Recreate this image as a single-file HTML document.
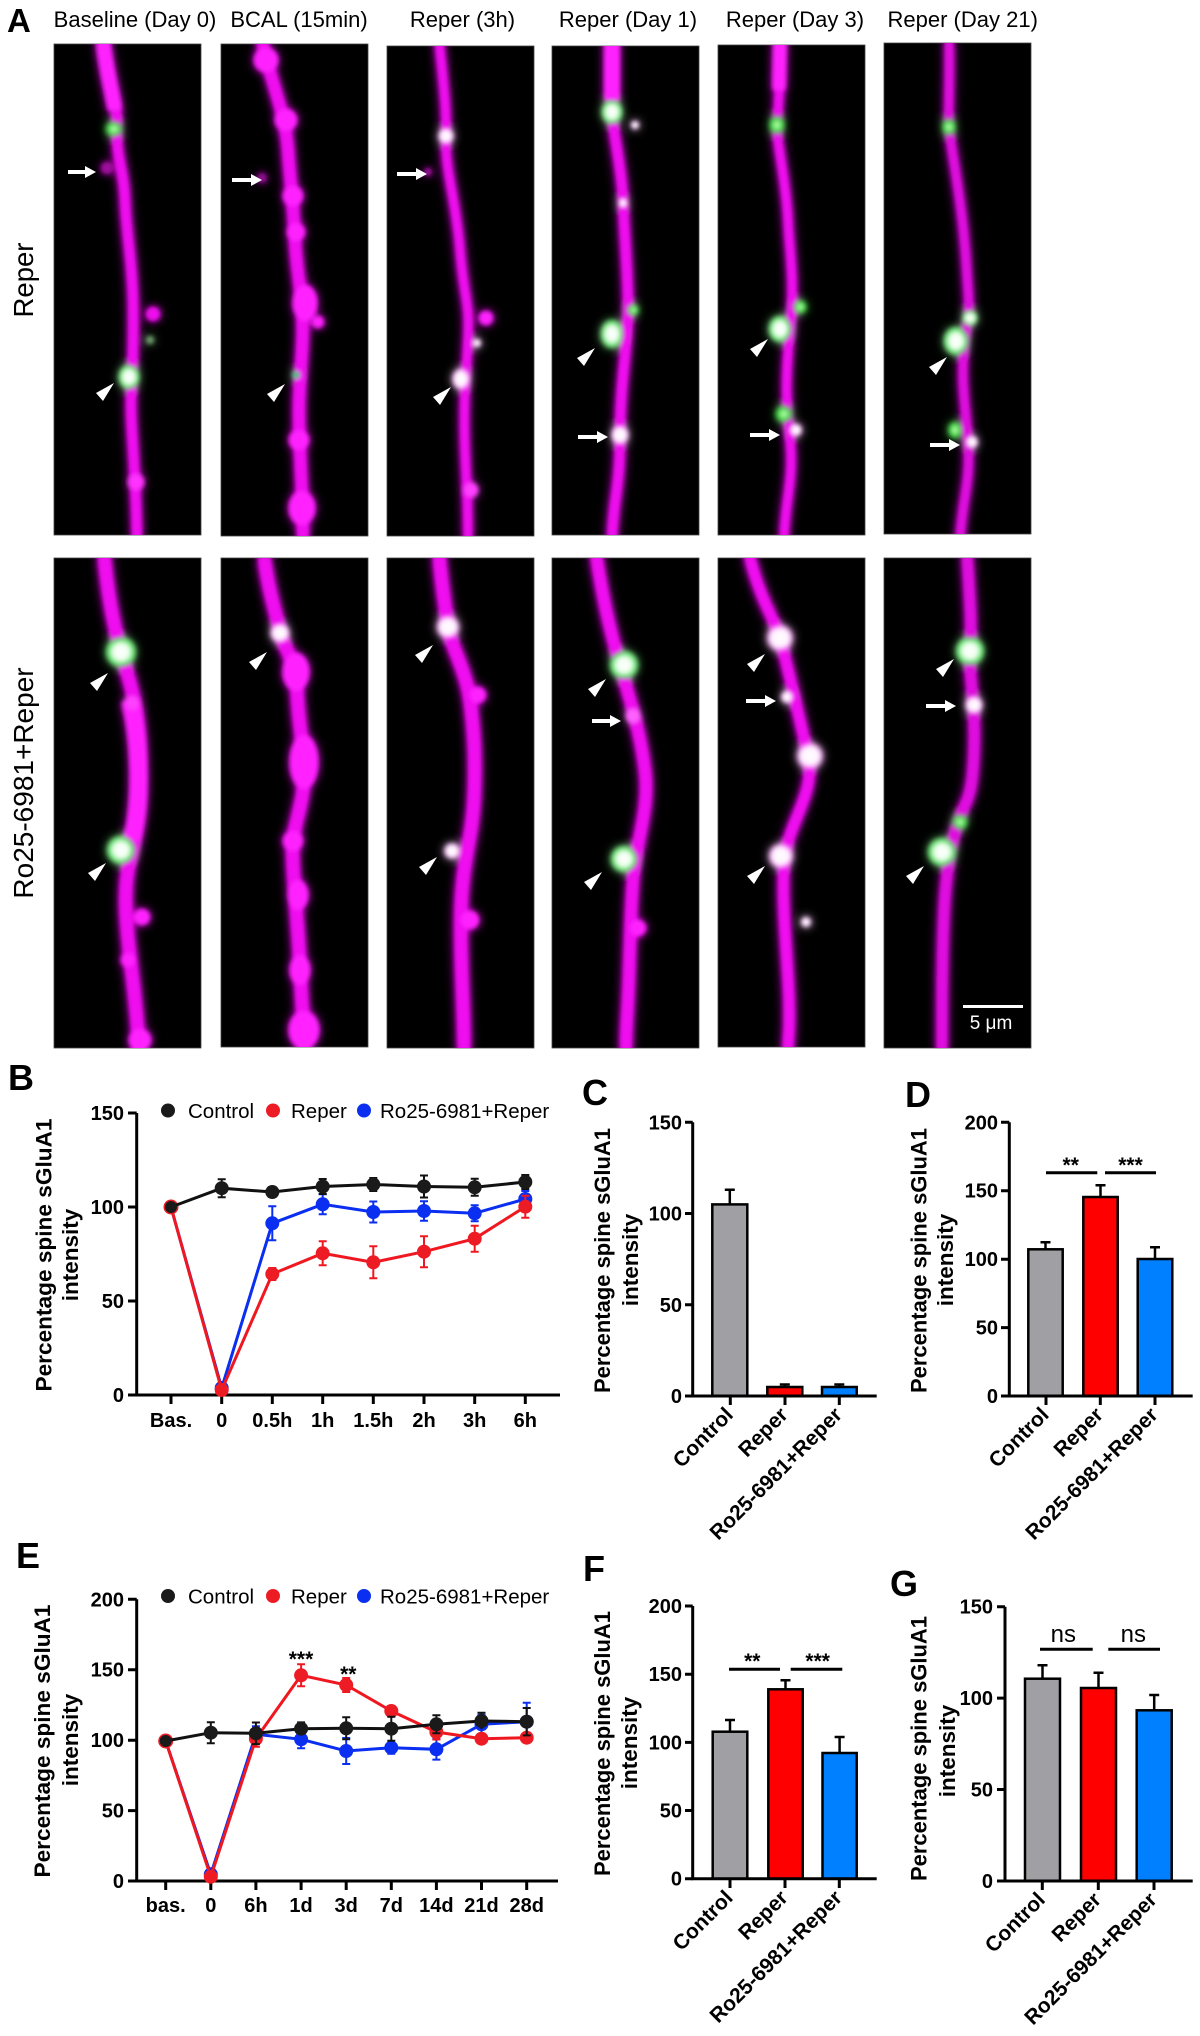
<!DOCTYPE html>
<html>
<head>
<meta charset="utf-8">
<style>
html,body{margin:0;padding:0;background:#fff;}
body{width:1200px;height:2036px;overflow:hidden;}
svg{display:block;font-family:"Liberation Sans",Arial,sans-serif;}
.tk{font-weight:bold;font-size:20px;}
.yl{font-weight:bold;font-size:22.5px;}
.xl{font-weight:bold;font-size:21px;}
.lg{font-size:20.5px;}
.pl{font-weight:bold;font-size:36px;}
.hd{font-size:22px;}
</style>
</head>
<body>
<svg width="1200" height="2036" viewBox="0 0 1200 2036" xmlns="http://www.w3.org/2000/svg">
<defs>
<filter id="bl" x="-40%" y="-10%" width="180%" height="120%">
<feGaussianBlur in="SourceGraphic" stdDeviation="5" result="a"/>
<feGaussianBlur in="SourceGraphic" stdDeviation="2" result="b"/>
<feMerge><feMergeNode in="a"/><feMergeNode in="b"/></feMerge>
</filter>
<radialGradient id="gw"><stop offset="0" stop-color="#ffffff"/><stop offset="0.5" stop-color="#f0fff0"/><stop offset="0.8" stop-color="#40e050"/><stop offset="1" stop-color="#20b030" stop-opacity="0"/></radialGradient>
<radialGradient id="gg"><stop offset="0" stop-color="#d8ffd0"/><stop offset="0.55" stop-color="#40e040"/><stop offset="1" stop-color="#10a020" stop-opacity="0"/></radialGradient>
<radialGradient id="ww"><stop offset="0" stop-color="#ffffff"/><stop offset="0.6" stop-color="#fff0ff"/><stop offset="1" stop-color="#ff40ff" stop-opacity="0"/></radialGradient>
<clipPath id="c1"><rect x="54" y="44" width="147" height="491"/></clipPath>
<clipPath id="c2"><rect x="221" y="44" width="147" height="492"/></clipPath>
<clipPath id="c3"><rect x="387" y="46" width="147" height="490"/></clipPath>
<clipPath id="c4"><rect x="552" y="46" width="147" height="489"/></clipPath>
<clipPath id="c5"><rect x="718" y="45" width="147" height="490"/></clipPath>
<clipPath id="c6"><rect x="884" y="43" width="147" height="491"/></clipPath>
<clipPath id="d1"><rect x="54" y="558" width="147" height="490"/></clipPath>
<clipPath id="d2"><rect x="221" y="558" width="147" height="489"/></clipPath>
<clipPath id="d3"><rect x="387" y="558" width="147" height="490"/></clipPath>
<clipPath id="d4"><rect x="552" y="558" width="147" height="490"/></clipPath>
<clipPath id="d5"><rect x="718" y="558" width="147" height="489"/></clipPath>
<clipPath id="d6"><rect x="884" y="558" width="147" height="490"/></clipPath>
</defs>

<!-- ================= PANEL A ================= -->
<text x="7" y="32" font-weight="bold" font-size="33">A</text>
<g class="hd" text-anchor="middle">
<text x="135" y="27">Baseline (Day 0)</text>
<text x="299" y="27">BCAL (15min)</text>
<text x="462.5" y="27">Reper (3h)</text>
<text x="628" y="27">Reper (Day 1)</text>
<text x="795" y="27">Reper (Day 3)</text>
<text x="962.7" y="27">Reper (Day 21)</text>
</g>
<text transform="translate(33,280) rotate(-90)" text-anchor="middle" font-size="27.5">Reper</text>
<text transform="translate(33,783) rotate(-90)" text-anchor="middle" font-size="28">Ro25-6981+Reper</text>

<g fill="#000" stroke="#444" stroke-width="0.8">
<rect x="54" y="44" width="147" height="491"/>
<rect x="221" y="44" width="147" height="492"/>
<rect x="387" y="46" width="147" height="490"/>
<rect x="552" y="46" width="147" height="489"/>
<rect x="718" y="45" width="147" height="490"/>
<rect x="884" y="43" width="147" height="491"/>
<rect x="54" y="558" width="147" height="490"/>
<rect x="221" y="558" width="147" height="489"/>
<rect x="387" y="558" width="147" height="490"/>
<rect x="552" y="558" width="147" height="490"/>
<rect x="718" y="558" width="147" height="489"/>
<rect x="884" y="558" width="147" height="490"/>
</g>

<!-- col1 row1 -->
<g clip-path="url(#c1)"><g filter="url(#bl)">
<path d="M103,40 C108,80 118,100 117,129 S124,170 125,200 S132,260 133,300 S132,380 131,400 S136,470 137,540" stroke="#f010f0" stroke-width="10" fill="none"/>
<path d="M103,40 C106,70 112,90 115,110" stroke="#ff20ff" stroke-width="14" fill="none"/>
<circle cx="153" cy="314" r="7" fill="#f010f0"/>
<circle cx="136" cy="482" r="8" fill="#ff30ff"/>
<circle cx="107" cy="168" r="6" fill="#a010a0"/>
<ellipse cx="114" cy="129" rx="10" ry="9" fill="url(#gg)"/>
<ellipse cx="129" cy="377" rx="11" ry="13" fill="url(#gw)"/>
<circle cx="150" cy="340" r="4" fill="#70a070"/>
</g></g>
<!-- col2 row1 -->
<g clip-path="url(#c2)"><g filter="url(#bl)">
<path d="M262,40 C270,80 285,110 288,150 S293,200 295,240 S305,300 302,350 S298,400 300,450 S303,500 303,540" stroke="#f010f0" stroke-width="12" fill="none"/>
<circle cx="266" cy="60" r="12" fill="#ff20ff"/>
<circle cx="286" cy="120" r="11" fill="#ff20ff"/>
<circle cx="293" cy="196" r="10" fill="#ff20ff"/>
<circle cx="296" cy="232" r="9" fill="#ff20ff"/>
<ellipse cx="305" cy="303" rx="12" ry="18" fill="#ff20ff"/>
<circle cx="318" cy="322" r="6" fill="#ff20ff"/>
<circle cx="299" cy="440" r="10" fill="#ff20ff"/>
<ellipse cx="302" cy="508" rx="13" ry="17" fill="#ff20ff"/>
<circle cx="262" cy="178" r="5" fill="#901090"/>
<circle cx="296" cy="375" r="4" fill="#40c080"/>
</g></g>
<!-- col3 row1 -->
<g clip-path="url(#c3)"><g filter="url(#bl)">
<path d="M439,40 C443,80 447,110 446,140 S456,200 460,250 S470,300 468,340 S463,400 465,450 S468,500 468,540" stroke="#f010f0" stroke-width="9" fill="none"/>
<circle cx="486" cy="318" r="7" fill="#ff20ff"/>
<circle cx="471" cy="490" r="7" fill="#ff40ff"/>
<circle cx="428" cy="172" r="4" fill="#a010a0"/>
<ellipse cx="446" cy="136" rx="9" ry="9" fill="url(#ww)"/>
<ellipse cx="461" cy="379" rx="10" ry="12" fill="url(#ww)"/>
<circle cx="477" cy="343" r="5" fill="url(#ww)"/>
</g></g>
<!-- col4 row1 -->
<g clip-path="url(#c4)"><g filter="url(#bl)">
<path d="M612,40 C614,80 612,100 612,113 S622,170 623,200 S627,260 628,300 S620,380 620,435 S613,500 612,540" stroke="#f010f0" stroke-width="10" fill="none"/>
<path d="M612,40 L612,100" stroke="#ff20ff" stroke-width="15" fill="none"/>
<ellipse cx="612" cy="112" rx="11" ry="13" fill="url(#gw)"/>
<circle cx="635" cy="125" r="5" fill="url(#ww)"/>
<circle cx="623" cy="203" r="5" fill="url(#ww)"/>
<circle cx="633" cy="310" r="7" fill="url(#gg)"/>
<ellipse cx="612" cy="334" rx="12" ry="15" fill="url(#gw)"/>
<ellipse cx="620" cy="435" rx="10" ry="11" fill="url(#ww)"/>
</g></g>
<!-- col5 row1 -->
<g clip-path="url(#c5)"><g filter="url(#bl)">
<path d="M780,40 C781,80 778,110 777,125 S786,180 788,220 S795,280 790,330 S786,400 790,440 S785,500 784,540" stroke="#f010f0" stroke-width="9" fill="none"/>
<path d="M780,40 L779,90" stroke="#ff20ff" stroke-width="13" fill="none"/>
<ellipse cx="777" cy="125" rx="9" ry="11" fill="url(#gg)"/>
<circle cx="800" cy="307" r="8" fill="url(#gg)"/>
<ellipse cx="780" cy="329" rx="12" ry="14" fill="url(#gw)"/>
<ellipse cx="784" cy="414" rx="10" ry="10" fill="url(#gg)"/>
<circle cx="796" cy="430" r="7" fill="url(#ww)"/>
</g></g>
<!-- col6 row1 -->
<g clip-path="url(#c6)"><g filter="url(#bl)">
<path d="M949,40 C950,80 948,110 949,127 S962,200 966,260 S970,300 965,340 S965,400 968,441 S962,500 960,540" stroke="#e010e0" stroke-width="9" fill="none"/>
<ellipse cx="949" cy="127" rx="8" ry="10" fill="url(#gg)"/>
<circle cx="970" cy="318" r="8" fill="url(#gw)"/>
<ellipse cx="956" cy="341" rx="13" ry="15" fill="url(#gw)"/>
<ellipse cx="955" cy="430" rx="8" ry="10" fill="url(#gg)"/>
<circle cx="972" cy="442" r="7" fill="url(#ww)"/>
</g></g>

<!-- Row 2 -->
<g clip-path="url(#d1)"><g filter="url(#bl)">
<path d="M104,554 C108,600 115,630 121,652 S138,700 140,750 S140,820 130,860 S130,950 135,1000 S137,1030 138,1052" stroke="#f010f0" stroke-width="13" fill="none"/>
<path d="M130,700 C140,740 142,800 132,840" stroke="#ff20ff" stroke-width="17" fill="none"/>
<circle cx="132" cy="703" r="7" fill="#ff40ff"/>
<circle cx="142" cy="917" r="8" fill="#ff20ff"/>
<circle cx="128" cy="960" r="7" fill="#ff20ff"/>
<circle cx="140" cy="1040" r="11" fill="#ff20ff"/>
<circle cx="121" cy="652" r="16" fill="url(#gw)"/>
<circle cx="121" cy="850" r="15" fill="url(#gw)"/>
</g></g>
<g clip-path="url(#d2)"><g filter="url(#bl)">
<path d="M264,556 C268,590 278,620 280,632 S296,660 297,690 S303,740 304,770 S295,820 293,841 S298,920 300,966 S304,1020 304,1052" stroke="#f010f0" stroke-width="13" fill="none"/>
<ellipse cx="296" cy="672" rx="13" ry="19" fill="#ff20ff"/>
<ellipse cx="304" cy="762" rx="14" ry="27" fill="#ff20ff"/>
<circle cx="293" cy="841" r="10" fill="#ff20ff"/>
<ellipse cx="298" cy="895" rx="10" ry="15" fill="#ff20ff"/>
<ellipse cx="300" cy="970" rx="10" ry="15" fill="#ff20ff"/>
<ellipse cx="304" cy="1030" rx="15" ry="19" fill="#ff20ff"/>
<circle cx="280" cy="633" r="11" fill="url(#ww)"/>
</g></g>
<g clip-path="url(#d3)"><g filter="url(#bl)">
<path d="M439,554 C442,590 446,610 448,627 S466,670 470,700 S476,760 474,800 S462,860 461,913 S464,1000 464,1052" stroke="#f010f0" stroke-width="13" fill="none"/>
<circle cx="478" cy="695" r="8" fill="#ff20ff"/>
<circle cx="470" cy="920" r="9" fill="#ff20ff"/>
<circle cx="448" cy="627" r="13" fill="url(#ww)"/>
<circle cx="452" cy="851" r="9" fill="url(#ww)"/>
</g></g>
<g clip-path="url(#d4)"><g filter="url(#bl)">
<path d="M596,554 C603,600 610,630 620,665 S640,730 645,770 S636,840 633,880 S630,960 628,1000 S626,1030 626,1052" stroke="#f010f0" stroke-width="12" fill="none"/>
<circle cx="633" cy="716" r="7" fill="#ff60ff"/>
<circle cx="638" cy="928" r="8" fill="#ff20ff"/>
<circle cx="624" cy="665" r="15" fill="url(#gw)"/>
<circle cx="624" cy="859" r="14" fill="url(#gw)"/>
</g></g>
<g clip-path="url(#d5)"><g filter="url(#bl)">
<path d="M749,554 C760,600 775,620 780,638 S800,720 808,756 S790,820 785,856 S788,960 789,1000 S788,1030 788,1052" stroke="#f010f0" stroke-width="11" fill="none"/>
<circle cx="806" cy="922" r="6" fill="url(#ww)"/>
<circle cx="787" cy="697" r="7" fill="url(#ww)"/>
<circle cx="780" cy="638" r="15" fill="url(#ww)"/>
<circle cx="810" cy="756" r="15" fill="url(#ww)"/>
<circle cx="781" cy="856" r="14" fill="url(#ww)"/>
</g></g>
<g clip-path="url(#d6)"><g filter="url(#bl)">
<path d="M967,554 C970,600 972,630 970,651 S976,700 974,752 S965,800 958,822 S946,870 944,913 S942,1000 942,1052" stroke="#e010e0" stroke-width="11" fill="none"/>
<circle cx="970" cy="651" r="15" fill="url(#gw)"/>
<circle cx="974" cy="705" r="10" fill="url(#ww)"/>
<circle cx="960" cy="822" r="9" fill="url(#gg)"/>
<circle cx="942" cy="852" r="15" fill="url(#gw)"/>
</g></g>

<!-- arrows -->
<g fill="#fff">
<path d="M68,170 H85 V166 L96,172 L85,178 V174 H68 Z"/>
<path d="M232,178 H251 V174 L262,180 L251,186 V182 H232 Z"/>
<path d="M397,172 H416 V168 L427,174 L416,180 V176 H397 Z"/>
<path d="M578,435 H597 V431 L608,437 L597,443 V439 H578 Z"/>
<path d="M750,433 H769 V429 L780,435 L769,441 V437 H750 Z"/>
<path d="M930,443 H949 V439 L960,445 L949,451 V447 H930 Z"/>
<path d="M592,719 H610 V715 L621,721 L610,727 V723 H592 Z"/>
<path d="M746,699 H765 V695 L776,701 L765,707 V703 H746 Z"/>
<path d="M926,704 H945 V700 L956,706 L945,712 V708 H926 Z"/>
</g>
<g fill="#fff">
<path d="M114,383 L96,393 L103,401 Z"/>
<path d="M285,384 L267,394 L274,402 Z"/>
<path d="M451,387 L433,397 L440,405 Z"/>
<path d="M595,348 L577,358 L584,366 Z"/>
<path d="M768,339 L750,349 L757,357 Z"/>
<path d="M947,357 L929,367 L936,375 Z"/>
<path d="M108,673 L90,683 L97,691 Z"/>
<path d="M106,863 L88,873 L95,881 Z"/>
<path d="M267,652 L249,662 L256,670 Z"/>
<path d="M433,645 L415,655 L422,663 Z"/>
<path d="M437,857 L419,867 L426,875 Z"/>
<path d="M606,679 L588,689 L595,697 Z"/>
<path d="M602,872 L584,882 L591,890 Z"/>
<path d="M765,654 L747,664 L754,672 Z"/>
<path d="M765,866 L747,876 L754,884 Z"/>
<path d="M954,659 L936,669 L943,677 Z"/>
<path d="M924,866 L906,876 L913,884 Z"/>
</g>
<line x1="963" y1="1006.5" x2="1023" y2="1006.5" stroke="#fff" stroke-width="3"/>
<text x="991" y="1029" text-anchor="middle" font-size="19" fill="#fff">5 μm</text>

<!-- ================= PANEL B ================= -->
<text class="pl" x="8" y="1090">B</text>
<g class="lg">
<circle cx="168" cy="1110.5" r="7" fill="#1a1a1a"/><text x="188" y="1118">Control</text>
<circle cx="273" cy="1110.5" r="7" fill="#ed1c24"/><text x="291" y="1118">Reper</text>
<circle cx="364" cy="1110.5" r="7" fill="#0a2ff0"/><text x="380" y="1118">Ro25-6981+Reper</text>
</g>
<g stroke="#000" stroke-width="3" fill="none">
<path d="M136.7,1113 V1396.5 M135.2,1395 H560"/>
<path d="M128,1113 H136.7 M128,1207 H136.7 M128,1301 H136.7 M128,1395 H136.7"/>
<path d="M171,1395 V1404 M221.7,1395 V1404 M272.3,1395 V1404 M322.7,1395 V1404 M373.3,1395 V1404 M424,1395 V1404 M474.7,1395 V1404 M525.3,1395 V1404"/>
</g>
<g class="tk" text-anchor="end">
<text x="124" y="1120">150</text><text x="124" y="1214">100</text><text x="124" y="1308">50</text><text x="124" y="1402">0</text>
</g>
<g class="tk" text-anchor="middle">
<text x="171" y="1427">Bas.</text><text x="221.7" y="1427">0</text><text x="272.3" y="1427">0.5h</text><text x="322.7" y="1427">1h</text><text x="373.3" y="1427">1.5h</text><text x="424" y="1427">2h</text><text x="474.7" y="1427">3h</text><text x="525.3" y="1427">6h</text>
</g>
<text class="yl" transform="translate(51.7,1255) rotate(-90)" text-anchor="middle" textLength="273" lengthAdjust="spacingAndGlyphs">Percentage spine sGluA1</text>
<text class="yl" transform="translate(78,1255) rotate(-90)" text-anchor="middle">intensity</text>
<g stroke="#0a2ff0" fill="none">
<polyline stroke-width="3" points="171,1207 221.7,1388 272.3,1223.3 322.7,1204.3 373.3,1212 424,1211 474.7,1213.3 525.3,1199"/>
<path stroke-width="2" d="M272.3,1206.3V1240.3M268.3,1206.3H276.3M268.3,1240.3H276.3 M322.7,1194.3V1214.3M318.7,1194.3H326.7M318.7,1214.3H326.7 M373.3,1201.5V1222.5M369.3,1201.5H377.3M369.3,1222.5H377.3 M424,1201.3V1220.7M420,1201.3H428M420,1220.7H428 M474.7,1205.3V1221.3M470.7,1205.3H478.7M470.7,1221.3H478.7 M525.3,1191V1207M521.3,1191H529.3M521.3,1207H529.3"/>
</g>
<g fill="#0a2ff0"><circle cx="221.7" cy="1388" r="7"/><circle cx="272.3" cy="1223.3" r="7"/><circle cx="322.7" cy="1204.3" r="7"/><circle cx="373.3" cy="1212" r="7"/><circle cx="424" cy="1211" r="7"/><circle cx="474.7" cy="1213.3" r="7"/><circle cx="525.3" cy="1199" r="7"/></g>
<g stroke="#f01820" fill="none">
<polyline stroke-width="3" points="171,1207 221.7,1390 272.3,1274 322.7,1253.3 373.3,1262.3 424,1251.7 474.7,1238.7 525.3,1206.7"/>
<path stroke-width="2" d="M272.3,1268V1280M268.3,1268H276.3M268.3,1280H276.3 M322.7,1241.3V1265.3M318.7,1241.3H326.7M318.7,1265.3H326.7 M373.3,1246.3V1278.3M369.3,1246.3H377.3M369.3,1278.3H377.3 M424,1236.2V1267.2M420,1236.2H428M420,1267.2H428 M474.7,1225.7V1251.7M470.7,1225.7H478.7M470.7,1251.7H478.7 M525.3,1195.7V1217.7M521.3,1195.7H529.3M521.3,1217.7H529.3"/>
</g>
<g fill="#ed1c24"><circle cx="171" cy="1207" r="7.5"/><circle cx="221.7" cy="1390" r="7"/><circle cx="272.3" cy="1274" r="7"/><circle cx="322.7" cy="1253.3" r="7"/><circle cx="373.3" cy="1262.3" r="7"/><circle cx="424" cy="1251.7" r="7"/><circle cx="474.7" cy="1238.7" r="7"/><circle cx="525.3" cy="1206.7" r="7"/></g>
<g stroke="#111" fill="none">
<polyline stroke-width="3" points="171,1207 221.7,1188.2 272.3,1192 322.7,1186.5 373.3,1184.5 424,1186.5 474.7,1187.3 525.3,1182"/>
<path stroke-width="2" d="M221.7,1179.2V1197.2M217.7,1179.2H225.7M217.7,1197.2H225.7 M272.3,1187V1197M268.3,1187H276.3M268.3,1197H276.3 M322.7,1179V1194M318.7,1179H326.7M318.7,1194H326.7 M373.3,1178V1191M369.3,1178H377.3M369.3,1191H377.3 M424,1175.5V1197.5M420,1175.5H428M420,1197.5H428 M474.7,1178.8V1195.8M470.7,1178.8H478.7M470.7,1195.8H478.7 M525.3,1175V1189M521.3,1175H529.3M521.3,1189H529.3"/>
</g>
<g fill="#1a1a1a"><circle cx="171" cy="1207" r="6"/><circle cx="221.7" cy="1188.2" r="7"/><circle cx="272.3" cy="1192" r="7"/><circle cx="322.7" cy="1186.5" r="7"/><circle cx="373.3" cy="1184.5" r="7"/><circle cx="424" cy="1186.5" r="7"/><circle cx="474.7" cy="1187.3" r="7"/><circle cx="525.3" cy="1182" r="7"/></g>

<!-- ================= PANEL C ================= -->
<text class="pl" x="582" y="1105">C</text>
<text class="yl" transform="translate(610,1260.5) rotate(-90)" text-anchor="middle" textLength="265" lengthAdjust="spacingAndGlyphs">Percentage spine sGluA1</text>
<text class="yl" transform="translate(638,1260) rotate(-90)" text-anchor="middle">intensity</text>
<g stroke="#000" stroke-width="2.5">
<rect x="712.3" y="1204.4" width="35" height="191.6" fill="#a0a0a4"/>
<rect x="767.3" y="1387" width="35" height="9" fill="#ff0000"/>
<rect x="822" y="1387" width="34.7" height="9" fill="#0080ff"/>
<path fill="none" d="M729.8,1204.4V1189.8M724.8,1189.8H734.8 M784.8,1387V1384.5M779.8,1384.5H789.8 M839.3,1387V1384.5M834.3,1384.5H844.3"/>
</g>
<g stroke="#000" stroke-width="3" fill="none">
<path d="M692.7,1122.3V1397.5M691.2,1396H876.7"/>
<path d="M685,1122.3H692.7M685,1213.5H692.7M685,1304.8H692.7M685,1396H692.7"/>
<path d="M730.3,1396V1405M785,1396V1405M839.3,1396V1405"/>
</g>
<g class="tk" text-anchor="end">
<text x="682" y="1129.3">150</text><text x="682" y="1220.5">100</text><text x="682" y="1311.8">50</text><text x="682" y="1403">0</text>
</g>
<g class="xl" text-anchor="end">
<text transform="translate(734.3,1416) rotate(-45)">Control</text>
<text transform="translate(789,1416) rotate(-45)">Reper</text>
<text transform="translate(843.3,1416) rotate(-45)">Ro25-6981+Reper</text>
</g>

<!-- ================= PANEL D ================= -->
<text class="pl" x="905" y="1107">D</text>
<text class="yl" transform="translate(926.7,1260.5) rotate(-90)" text-anchor="middle" textLength="265" lengthAdjust="spacingAndGlyphs">Percentage spine sGluA1</text>
<text class="yl" transform="translate(953,1260) rotate(-90)" text-anchor="middle">intensity</text>
<g stroke="#000" stroke-width="2.5">
<rect x="1028.3" y="1249.3" width="34.4" height="146.7" fill="#a0a0a4"/>
<rect x="1083.3" y="1197" width="34.4" height="199" fill="#ff0000"/>
<rect x="1137.7" y="1259" width="34.6" height="137" fill="#0080ff"/>
<path fill="none" d="M1045.5,1249.3V1242.3M1040.5,1242.3H1050.5 M1100.5,1197V1185.3M1095.5,1185.3H1105.5 M1155,1259V1247.3M1150,1247.3H1160"/>
</g>
<g stroke="#000" stroke-width="3" fill="none">
<path d="M1009.3,1122.3V1397.5M1007.8,1396H1192.7"/>
<path d="M1001,1122.3H1009.3M1001,1190.7H1009.3M1001,1259.2H1009.3M1001,1327.6H1009.3M1001,1396H1009.3"/>
<path d="M1046,1396V1405M1100.3,1396V1405M1155,1396V1405"/>
<path d="M1046,1172.7H1097.3M1105,1172.7H1156"/>
</g>
<g class="tk" text-anchor="end">
<text x="998" y="1129.3">200</text><text x="998" y="1197.7">150</text><text x="998" y="1266.2">100</text><text x="998" y="1334.6">50</text><text x="998" y="1403">0</text>
</g>
<g font-weight="bold" font-size="21" text-anchor="middle">
<text x="1070.7" y="1172">**</text><text x="1130.5" y="1172">***</text>
</g>
<g class="xl" text-anchor="end">
<text transform="translate(1050,1416) rotate(-45)">Control</text>
<text transform="translate(1104.3,1416) rotate(-45)">Reper</text>
<text transform="translate(1159,1416) rotate(-45)">Ro25-6981+Reper</text>
</g>

<!-- ================= PANEL E ================= -->
<text class="pl" x="16" y="1568">E</text>
<g class="lg">
<circle cx="168" cy="1596" r="7" fill="#1a1a1a"/><text x="188" y="1603.5">Control</text>
<circle cx="273" cy="1596" r="7" fill="#ed1c24"/><text x="291" y="1603.5">Reper</text>
<circle cx="364" cy="1596" r="7" fill="#0a2ff0"/><text x="380" y="1603.5">Ro25-6981+Reper</text>
</g>
<g stroke="#000" stroke-width="3" fill="none">
<path d="M136.7,1599.3V1882.5M135.2,1881H558"/>
<path d="M128,1599.3H136.7M128,1669.7H136.7M128,1740.2H136.7M128,1810.6H136.7M128,1881H136.7"/>
<path d="M165.7,1881V1890M210.8,1881V1890M255.9,1881V1890M301.1,1881V1890M346.2,1881V1890M391.3,1881V1890M436.4,1881V1890M481.5,1881V1890M526.7,1881V1890"/>
</g>
<g class="tk" text-anchor="end">
<text x="124" y="1606.3">200</text><text x="124" y="1676.7">150</text><text x="124" y="1747.2">100</text><text x="124" y="1817.6">50</text><text x="124" y="1888">0</text>
</g>
<g class="tk" text-anchor="middle">
<text x="165.7" y="1912">bas.</text><text x="210.8" y="1912">0</text><text x="255.9" y="1912">6h</text><text x="301.1" y="1912">1d</text><text x="346.2" y="1912">3d</text><text x="391.3" y="1912">7d</text><text x="436.4" y="1912">14d</text><text x="481.5" y="1912">21d</text><text x="526.7" y="1912">28d</text>
</g>
<text class="yl" transform="translate(50,1741) rotate(-90)" text-anchor="middle" textLength="273" lengthAdjust="spacingAndGlyphs">Percentage spine sGluA1</text>
<text class="yl" transform="translate(78,1740) rotate(-90)" text-anchor="middle">intensity</text>
<g font-weight="bold" font-size="21" text-anchor="middle">
<text x="301" y="1666">***</text><text x="348.3" y="1681">**</text>
</g>
<g stroke="#0a2ff0" fill="none">
<polyline stroke-width="3" points="165.7,1741 210.8,1874.3 255.9,1734.3 301.1,1739.3 346.2,1751 391.3,1747.7 436.4,1749.3 481.5,1724.3 526.7,1721.7"/>
<path stroke-width="2" d="M255.9,1726.3V1742.3M251.9,1726.3H259.9 M301.1,1730.3V1748.3M297.1,1730.3H305.1M297.1,1748.3H305.1 M346.2,1738V1764M342.2,1738H350.2M342.2,1764H350.2 M391.3,1741.7V1753.7M387.3,1753.7H395.3 M436.4,1739V1759.6M432.4,1739H440.4M432.4,1759.6H440.4 M481.5,1714.8V1733.8M477.5,1714.8H485.5 M526.7,1702.7V1740.7M522.7,1702.7H530.7M522.7,1740.7H530.7"/>
</g>
<g fill="#0a2ff0"><circle cx="210.8" cy="1874.3" r="7"/><circle cx="255.9" cy="1734.3" r="7"/><circle cx="301.1" cy="1739.3" r="7"/><circle cx="346.2" cy="1751" r="7"/><circle cx="391.3" cy="1747.7" r="7"/><circle cx="436.4" cy="1749.3" r="7"/><circle cx="481.5" cy="1724.3" r="7"/><circle cx="526.7" cy="1721.7" r="7"/></g>
<g stroke="#f01820" fill="none">
<polyline stroke-width="3" points="165.7,1741 210.8,1876.7 255.9,1738.7 301.1,1675.3 346.2,1685 391.3,1711 436.4,1732 481.5,1738.7 526.7,1737.7"/>
<path stroke-width="2" d="M255.9,1730.7V1746.7M251.9,1746.7H259.9 M301.1,1664.3V1686.3M297.1,1664.3H305.1M297.1,1686.3H305.1 M346.2,1678V1692M342.2,1678H350.2M342.2,1692H350.2 M391.3,1706V1716M387.3,1706H395.3 M436.4,1724.5V1739.5M432.4,1739.5H440.4"/>
</g>
<g fill="#ed1c24"><circle cx="165.7" cy="1741" r="7.5"/><circle cx="210.8" cy="1876.7" r="7"/><circle cx="255.9" cy="1738.7" r="7"/><circle cx="301.1" cy="1675.3" r="7"/><circle cx="346.2" cy="1685" r="7"/><circle cx="391.3" cy="1711" r="7"/><circle cx="436.4" cy="1732" r="7"/><circle cx="481.5" cy="1738.7" r="7"/><circle cx="526.7" cy="1737.7" r="7"/></g>
<g stroke="#111" fill="none">
<polyline stroke-width="3" points="165.7,1741 210.8,1732.7 255.9,1733.3 301.1,1728.7 346.2,1728.3 391.3,1728.7 436.4,1724.3 481.5,1721 526.7,1721.7"/>
<path stroke-width="2" d="M210.8,1722.2V1743.2M206.8,1722.2H214.8M206.8,1743.2H214.8 M255.9,1722.5V1744.1M251.9,1722.5H259.9M251.9,1744.1H259.9 M301.1,1722.4V1735M297.1,1722.4H305.1 M346.2,1717.3V1739.3M342.2,1717.3H350.2M342.2,1739.3H350.2 M391.3,1716.7V1740.7M387.3,1716.7H395.3M387.3,1740.7H395.3 M436.4,1715.3V1733.3M432.4,1715.3H440.4M432.4,1733.3H440.4 M481.5,1712.7V1729.3M477.5,1712.7H485.5 M526.7,1708V1735.4M522.7,1708H530.7M522.7,1735.4H530.7"/>
</g>
<g fill="#1a1a1a"><circle cx="165.7" cy="1741" r="6"/><circle cx="210.8" cy="1732.7" r="7"/><circle cx="255.9" cy="1733.3" r="7"/><circle cx="301.1" cy="1728.7" r="7"/><circle cx="346.2" cy="1728.3" r="7"/><circle cx="391.3" cy="1728.7" r="7"/><circle cx="436.4" cy="1724.3" r="7"/><circle cx="481.5" cy="1721" r="7"/><circle cx="526.7" cy="1721.7" r="7"/></g>

<!-- ================= PANEL F ================= -->
<text class="pl" x="583" y="1581">F</text>
<text class="yl" transform="translate(610,1743.5) rotate(-90)" text-anchor="middle" textLength="265" lengthAdjust="spacingAndGlyphs">Percentage spine sGluA1</text>
<text class="yl" transform="translate(637,1743) rotate(-90)" text-anchor="middle">intensity</text>
<g stroke="#000" stroke-width="2.5">
<rect x="712.7" y="1731.7" width="34.6" height="147" fill="#a0a0a4"/>
<rect x="768.3" y="1689.3" width="34.4" height="189.4" fill="#ff0000"/>
<rect x="822.5" y="1753" width="34.2" height="125.7" fill="#0080ff"/>
<path fill="none" d="M730,1731.7V1720M725,1720H735 M785.5,1689.3V1680.3M780.5,1680.3H790.5 M839.6,1753V1737M834.6,1737H844.6"/>
</g>
<g stroke="#000" stroke-width="3" fill="none">
<path d="M692.7,1606V1880.2M691.2,1878.7H876.7"/>
<path d="M685,1606H692.7M685,1674.2H692.7M685,1742.4H692.7M685,1810.5H692.7M685,1878.7H692.7"/>
<path d="M730,1878.7V1888M785,1878.7V1888M839.3,1878.7V1888"/>
<path d="M729,1669.3H780M790.7,1669.3H842.3"/>
</g>
<g class="tk" text-anchor="end">
<text x="682" y="1613">200</text><text x="682" y="1681.2">150</text><text x="682" y="1749.4">100</text><text x="682" y="1817.5">50</text><text x="682" y="1885.7">0</text>
</g>
<g font-weight="bold" font-size="21" text-anchor="middle">
<text x="752.3" y="1668">**</text><text x="817.7" y="1668">***</text>
</g>
<g class="xl" text-anchor="end">
<text transform="translate(734,1899) rotate(-45)">Control</text>
<text transform="translate(789,1899) rotate(-45)">Reper</text>
<text transform="translate(843.3,1899) rotate(-45)">Ro25-6981+Reper</text>
</g>

<!-- ================= PANEL G ================= -->
<text class="pl" x="890" y="1596">G</text>
<text class="yl" transform="translate(926.7,1748.5) rotate(-90)" text-anchor="middle" textLength="265" lengthAdjust="spacingAndGlyphs">Percentage spine sGluA1</text>
<text class="yl" transform="translate(955,1751) rotate(-90)" text-anchor="middle">intensity</text>
<g stroke="#000" stroke-width="2.5">
<rect x="1025" y="1678.7" width="35" height="202.3" fill="#a0a0a4"/>
<rect x="1081" y="1688" width="35" height="193" fill="#ff0000"/>
<rect x="1136.7" y="1710.3" width="35" height="170.7" fill="#0080ff"/>
<path fill="none" d="M1042.5,1678.7V1665.3M1037.5,1665.3H1047.5 M1098.5,1688V1672.7M1093.5,1672.7H1103.5 M1154.2,1710.3V1695M1149.2,1695H1159.2"/>
</g>
<g stroke="#000" stroke-width="3" fill="none">
<path d="M1005,1606.7V1882.5M1003.5,1881H1192.7"/>
<path d="M997,1606.7H1005M997,1698.1H1005M997,1789.5H1005M997,1881H1005"/>
<path d="M1042.3,1881V1890M1098.3,1881V1890M1154,1881V1890"/>
<path d="M1040,1649.3H1092.7M1108.3,1649.3H1160"/>
</g>
<g class="tk" text-anchor="end">
<text x="993" y="1613.7">150</text><text x="993" y="1705.1">100</text><text x="993" y="1796.5">50</text><text x="993" y="1888">0</text>
</g>
<g font-size="24" text-anchor="middle">
<text x="1063.3" y="1642">ns</text><text x="1133.3" y="1642">ns</text>
</g>
<g class="xl" text-anchor="end">
<text transform="translate(1046.3,1901) rotate(-45)">Control</text>
<text transform="translate(1102.3,1901) rotate(-45)">Reper</text>
<text transform="translate(1158,1901) rotate(-45)">Ro25-6981+Reper</text>
</g>
</svg>
</body>
</html>
